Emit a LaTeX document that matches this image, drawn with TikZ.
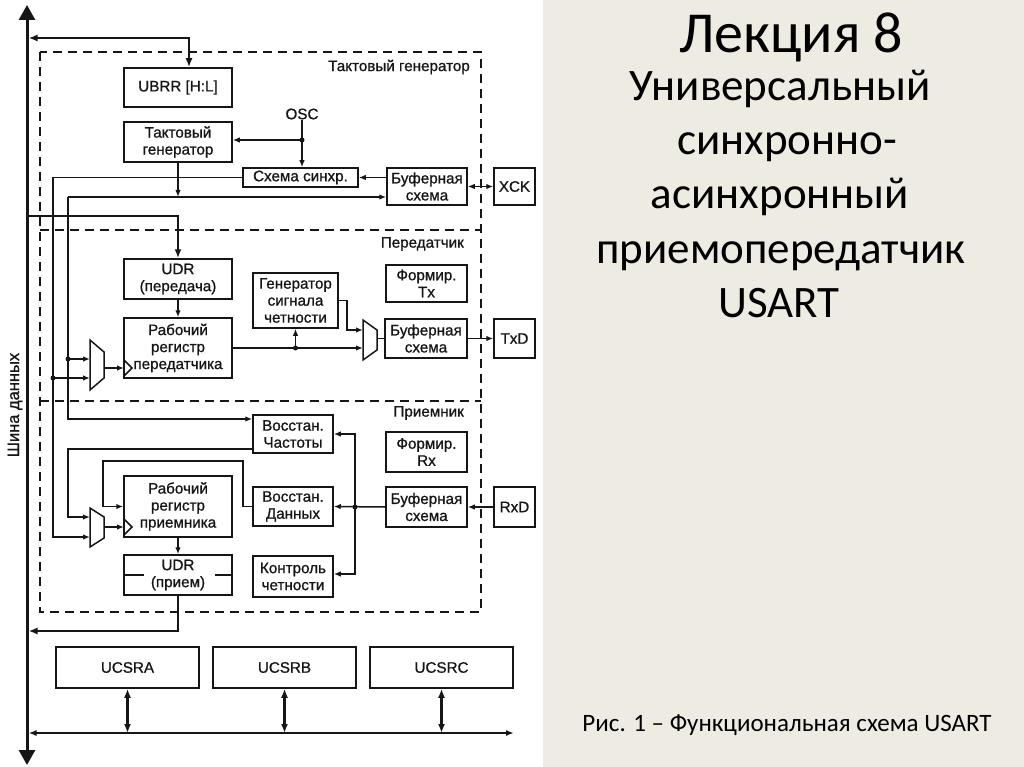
\documentclass[tikz,border=0pt]{standalone}
\usepackage{fontspec}
\setmainfont{Liberation Sans}[RawFeature={embolden=0.9}]
\newfontfamily\titlefont{Carlito}
\usetikzlibrary{arrows.meta}
\definecolor{panel}{RGB}{238,235,226}
\definecolor{ink}{RGB}{22,22,22}
\begin{document}
\begin{tikzpicture}[x=1pt,y=-1pt,
  box/.style={draw=ink, line width=1.5pt, inner sep=0pt, align=center, text=ink,
    font=\fontsize{15.2}{17}\selectfont},
  lbl/.style={inner sep=0pt, text=ink, font=\fontsize{15.2}{17}\selectfont},
  wire/.style={draw=ink, line width=1.5pt},
  fat/.style={draw=ink, line width=2.8pt},
  toarr/.style={-{Latex[length=7pt,width=5.5pt]}},
  botharr/.style={{Latex[length=7pt,width=5.5pt]}-{Latex[length=7pt,width=5.5pt]}},
  fattoarr/.style={-{Latex[length=9pt,width=7pt]}},
  fatboth/.style={{Latex[length=9pt,width=7pt]}-{Latex[length=9pt,width=7pt]}},
  zone/.style={draw=ink, line width=1.5pt, dash pattern=on 9pt off 6pt},
  dot/.style={fill=ink}
]
% background
\fill[white] (0,0) rectangle (543,767);
\fill[panel] (543,0) rectangle (1024,767);
\useasboundingbox (0,0) rectangle (1024,767);

% dashed zones
\draw[zone] (40,52) rectangle (481,612);
\draw[zone] (40,230) -- (481,230);
\draw[zone] (40,401) -- (481,401);
\node[lbl, anchor=east] (zclk) at (470,67) {Тактовый генератор};
\node[lbl, anchor=east] (ztx) at (464,244) {Передатчик};
\node[lbl, anchor=east] (zrx) at (464,413) {Приемник};

% boxes
\node[box, minimum width=108pt, minimum height=39pt] (ubrr) at (178,87.5) {UBRR [H:L]};
\node[box, minimum width=108pt, minimum height=40pt] (tgen) at (178,142) {Тактовый\\генератор};
\node[lbl] (osc) at (302,114) {OSC};
\node[box, minimum width=115pt, minimum height=19pt] (sync) at (300.5,177.5) {Схема синхр.};
\node[box, minimum width=80pt, minimum height=37pt] (bufc) at (427,186.5) {Буферная\\схема};
\node[box, minimum width=41pt, minimum height=37pt] (xck) at (514.5,186.5) {XCK};

\node[box, minimum width=108pt, minimum height=40pt] (udrt) at (178,279) {UDR\\(передача)};
\node[box, minimum width=108pt, minimum height=60pt] (rrt) at (178,348) {Рабочий\\регистр\\передатчика};
\node[box, minimum width=85pt, minimum height=55pt] (pgen) at (295.5,300.5) {Генератор\\сигнала\\четности};
\node[box, minimum width=81pt, minimum height=37pt] (ftx) at (426.5,283.5) {Формир.\\Tx};
\node[box, minimum width=82pt, minimum height=39pt] (buft) at (426,338.5) {Буферная\\схема};
\node[box, minimum width=41pt, minimum height=39pt] (txd) at (514.5,338.5) {TxD};

\node[box, minimum width=80pt, minimum height=38pt] (vch) at (293,434) {Восстан.\\Частоты};
\node[box, minimum width=81pt, minimum height=40pt] (frx) at (426.5,452) {Формир.\\Rx};
\node[box, minimum width=80pt, minimum height=39pt] (vdat) at (293,506.5) {Восстан.\\Данных};
\node[box, minimum width=81pt, minimum height=40pt] (bufr) at (426.5,507) {Буферная\\схема};
\node[box, minimum width=41pt, minimum height=40pt] (rxd) at (514.5,507) {RxD};
\node[box, minimum width=80pt, minimum height=41pt] (kch) at (293,576.5) {Контроль\\четности};
\node[box, minimum width=108pt, minimum height=61pt] (rrr) at (178,506.5) {Рабочий\\регистр\\приемника};
\node[box, minimum width=108pt, minimum height=40pt] (udrr) at (178,575) {UDR\\(прием)};
\draw[wire] (udrr.west) -- ++(21,0);
\draw[wire] (udrr.east) -- ++(-18,0);

\node[box, minimum width=143pt, minimum height=41pt] (ucsra) at (127.5,667.5) {UCSRA};
\node[box, minimum width=143pt, minimum height=41pt] (ucsrb) at (284.5,667.5) {UCSRB};
\node[box, minimum width=143pt, minimum height=41pt] (ucsrc) at (441.5,667.5) {UCSRC};

% multiplexers
\draw[wire] (90,340) -- (104,352) -- (104,378) -- (90,390) -- cycle;
\coordinate (mt1) at (90,359);
\coordinate (mt2) at (90,378);
\coordinate (mto) at (104,368);
\draw[wire] (363,320) -- (377,330) -- (377,350) -- (363,360) -- cycle;
\coordinate (mp1) at (363,330);
\coordinate (mp2) at (363,348);
\coordinate (mpo) at (377,338.5);
\draw[wire] (90,508) -- (104,517) -- (104,538) -- (90,547) -- cycle;
\coordinate (mr1) at (90,517);
\coordinate (mr2) at (90,537);
\coordinate (mro) at (104,527);

% clock triangles
\draw[wire, line join=miter] (124,360) -- (132,368) -- (124,376);
\draw[wire, line join=miter] (124,519) -- (132,527) -- (124,535);

% data bus
\coordinate (bustop) at (27,5);
\coordinate (busbot) at (27,765);
\draw[draw=ink, line width=3pt, {Triangle[length=15pt,width=16pt]}-{Triangle[length=15pt,width=16pt]}] (bustop) -- (busbot);
\node[lbl, rotate=90, font=\fontsize{16.5}{18}\selectfont] (busname) at (15,405) {Шина данных};

\coordinate (b38) at (28.5,38);
\draw[fat, fatboth] (b38) -| ([xshift=11pt]ubrr.north);
\coordinate (b216) at (27,216);
\draw[fat, fattoarr] (b216) -| (udrt.north);
\coordinate (b631) at (28.5,631);
\draw[fat, fattoarr] (udrr.south) |- (b631);

% clock section
\coordinate (oscdot) at (302,140);
\draw[wire, toarr] (osc.south) -- (osc.south |- sync.north);
\draw[wire, toarr] (oscdot) -- (oscdot -| tgen.east);
\fill[dot] (oscdot) circle (2.5pt);
\draw[wire, toarr] (bufc.west |- sync.east) -- (sync.east);
\draw[wire, botharr] (bufc.east) -- (xck.west);

\coordinate (c53) at (53,537);
\draw[wire, toarr] (sync.west) -| (c53) -- (mr2);
\draw[wire, toarr] (c53 |- mt2) -- (mt2);
\fill[dot] (c53 |- mt2) circle (2.5pt);

\coordinate (c68) at (68,197);
\draw[wire, toarr] (tgen.south) -- (tgen.south |- c68);
\draw[wire, toarr] (c68) -- ([yshift=-10.5pt]bufc.west);
\draw[wire, toarr] (c68) |- ([yshift=15pt]vch.west);
\draw[wire, toarr] (c68 |- mt1) -- (mt1);
\fill[dot] (c68 |- mt1) circle (2.5pt);

% transmitter
\draw[wire, toarr] (udrt.south) -- (rrt.north);
\draw[wire, toarr] (mto) -- (124,368);
\coordinate (pdot) at (pgen.south |- mp2);
\draw[wire, toarr] (rrt.east |- mp2) -- (mp2);
\draw[wire, toarr] (pdot) -- (pgen.south);
\fill[dot] (pdot) circle (2.5pt);
\draw[wire, toarr] (pgen.east) -| (347,330) -- (mp1);
\draw[wire] (mpo) -- (buft.west);
\draw[wire, toarr] (buft.east) -- (txd.west);

% receiver
\draw[wire, toarr] (rxd.west) -- (bufr.east);
\coordinate (rdot) at (355,507);
\draw[wire, toarr] (bufr.west) -- (vdat.east);
\draw[wire, toarr] (rdot) |- (vch.east);
\draw[wire, toarr] (rdot) |- ([yshift=2.5pt]kch.east);
\fill[dot] (rdot) circle (2.5pt);
\draw[wire, toarr] ([yshift=-15pt]vch.west) -| (68,517) -- (mr1);
\draw[wire, toarr] (vdat.west) -- (243,506.5) |- (103,461) |- (rrr.west);
\draw[wire, toarr] (mro) -- (124,527);
\draw[wire, toarr] (rrr.south) -- (udrr.north);

% register bus
\coordinate (bbl) at (28.5,733);
\coordinate (bbr) at (514,733);
\draw[draw=ink, line width=2.4pt, {Latex[length=8pt,width=6pt]}-{Latex[length=8pt,width=6pt]}] (bbl) -- (bbr);
\draw[fat, fatboth] (ucsra.south) -- (ucsra.south |- bbl);
\draw[fat, fatboth] (ucsrb.south) -- (ucsrb.south |- bbl);
\draw[fat, fatboth] (ucsrc.south) -- (ucsrc.south |- bbl);

% title panel
\node[anchor=base, inner sep=0pt, text=black, font=\titlefont\fontsize{58}{64}\selectfont] (t0) at (791,53) {Лекция 8};
\node[anchor=base, inner sep=0pt, text=black, font=\titlefont\fontsize{45}{54}\selectfont] (t1) at (780,101) {Универсальный};
\node[anchor=base, inner sep=0pt, text=black, font=\titlefont\fontsize{45}{54}\selectfont] (t2) at (787,155) {синхронно-};
\node[anchor=base, inner sep=0pt, text=black, font=\titlefont\fontsize{45}{54}\selectfont] (t3) at (780,209) {асинхронный};
\node[anchor=base, inner sep=0pt, text=black, font=\titlefont\fontsize{45}{54}\selectfont] (t4) at (781,263) {приемопередатчик};
\node[anchor=base, inner sep=0pt, text=black, font=\titlefont\fontsize{45}{54}\selectfont] (t5) at (779,317) {USART};
\node[anchor=base, inner sep=0pt, text=black, font=\titlefont\fontsize{25}{30}\selectfont] (cap) at (787,731) {Рис. 1 – Функциональная схема USART};
\end{tikzpicture}
\end{document}
